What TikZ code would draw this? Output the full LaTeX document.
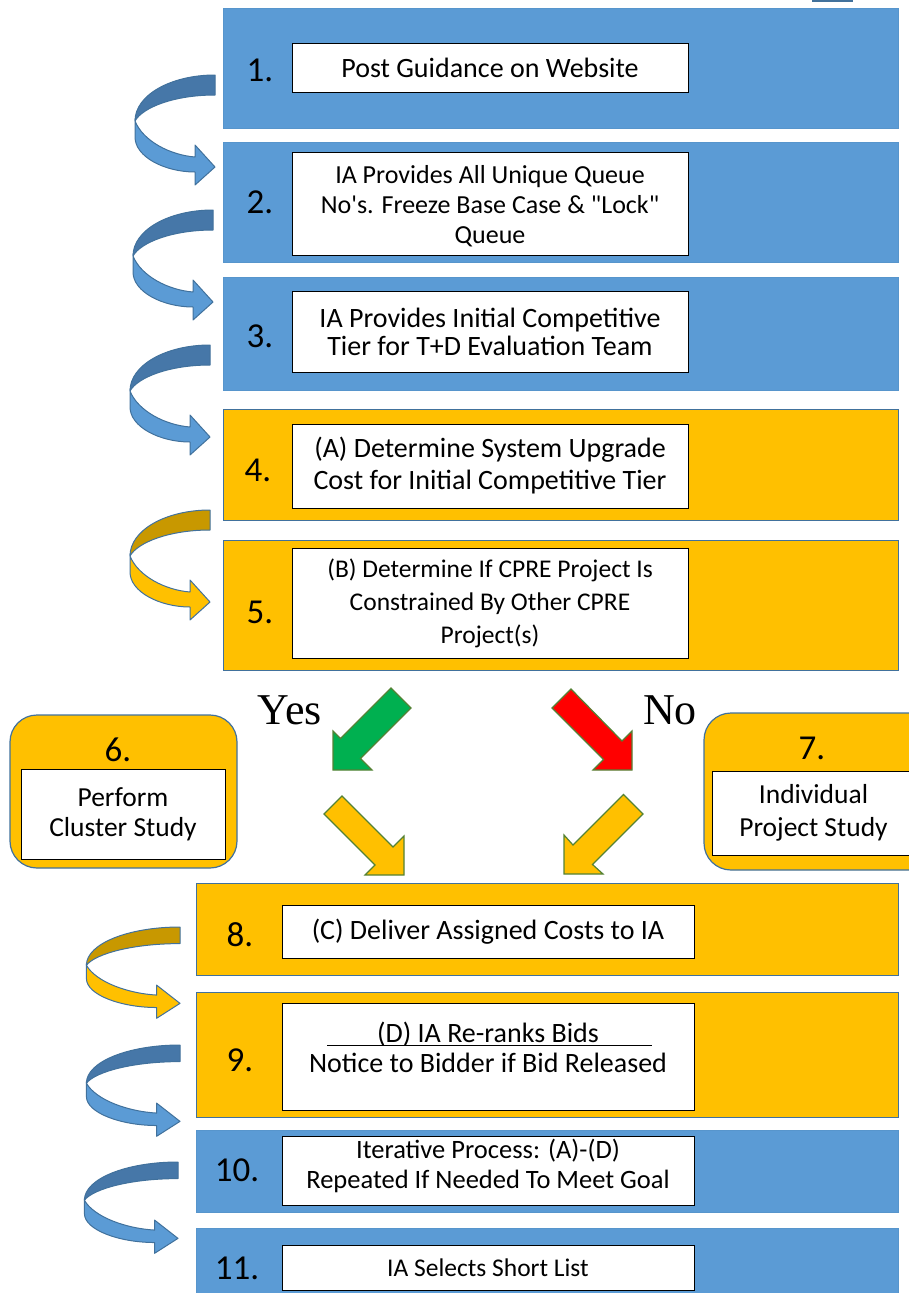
\documentclass[tikz,border=0pt]{standalone}
\usepackage{fontspec}
\setmainfont{Carlito}
\newfontfamily\boxfont{Carlito}
\newfontfamily\serifyn{Liberation Serif}
\definecolor{boxblue}{HTML}{5B9BD5}
\definecolor{edgeblue}{HTML}{41719C}
\definecolor{boxgold}{HTML}{FFC000}
\definecolor{darkgold}{HTML}{C89800}
\definecolor{darkblue}{HTML}{4677A8}
\definecolor{arrgreen}{HTML}{00B050}
\definecolor{arredge}{HTML}{548235}
\definecolor{arrred}{HTML}{FF0000}
\tikzset{
  bluepanel/.style={fill=boxblue, draw=boxblue!85!edgeblue, line width=0.8pt, inner sep=0pt},
  goldpanel/.style={fill=boxgold, draw=edgeblue, line width=0.8pt, inner sep=0pt},
  roundpanel/.style={fill=boxgold, draw=edgeblue, line width=1.2pt, rounded corners=27pt, inner sep=0pt},
  whitebox/.style={fill=white, draw=black, line width=0.8pt, inner sep=0pt, align=center},
  numtext/.style={font=\boxfont\fontsize{35}{35}\selectfont},
  yntext/.style={font=\serifyn\fontsize{44}{44}\selectfont},
  bigarrow/.style={draw=arredge, line width=1.2pt, line join=miter},
}
\newcommand\curlarrow[6]{%
  \begin{scope}[shift={(#1,#2)}, xscale=#3, yscale=#4, line width=1pt, line join=round]
    \filldraw[draw=edgeblue, fill=#6] (-80,44) -- (-80,62) .. controls (-80,82) and (-50,97) .. (-20,97)
      -- (-20,110) -- (0,92) -- (-20,70) -- (-20,82) .. controls (-45,80) and (-72,66) .. (-80,46) -- cycle;
    \filldraw[draw=edgeblue, fill=#5] (0,0) .. controls (-44,0) and (-80,20) .. (-80,46)
      .. controls (-72,32) and (-40,20) .. (0,20) -- cycle;
  \end{scope}}
\begin{document}
\begin{tikzpicture}[x=1pt, y=-1pt]
\useasboundingbox (0,0) rectangle (909,1293);
\fill[edgeblue] (812,0) rectangle (853,1.5);

% upper panels
\node[bluepanel, minimum width=675pt, minimum height=120pt] (p1) at (560.5,68) {};
\node[bluepanel, minimum width=675pt, minimum height=120pt] (p2) at (560.5,202) {};
\node[bluepanel, minimum width=675pt, minimum height=113pt] (p3) at (560.5,333.5) {};
\node[goldpanel, minimum width=675pt, minimum height=111pt] (p4) at (560.5,464.5) {};
\node[goldpanel, minimum width=675pt, minimum height=130pt] (p5) at (560.5,605) {};

\node[whitebox, minimum width=396pt, minimum height=49pt, font=\boxfont\fontsize{28}{30}\selectfont] (w1) at (490,67.5) {Post Guidance on Website};
\node[whitebox, minimum width=396pt, minimum height=103pt] (w2) at (490,203.5) {};
\node[align=center, font=\boxfont\fontsize{26}{30}\selectfont] (t2) at (490,206) {IA Provides All Unique Queue\\No's. Freeze Base Case \& "Lock"\\Queue};
\node[whitebox, minimum width=396pt, minimum height=81pt, font=\boxfont\fontsize{28}{28}\selectfont] (w3) at (490,331.5) {IA Provides Initial Competitive\\Tier for T+D Evaluation Team};
\node[whitebox, minimum width=396pt, minimum height=84pt, font=\boxfont\fontsize{28}{32}\selectfont] (w4) at (490,466) {(A) Determine System Upgrade\\Cost for Initial Competitive Tier};
\node[whitebox, minimum width=396pt, minimum height=110pt, font=\boxfont\fontsize{25.5}{33}\selectfont] (w5) at (490,603) {(B) Determine If CPRE Project Is\\Constrained By Other CPRE\\Project(s)};

\node[numtext] (n1) at (260,70) {1.};
\node[numtext] (n2) at (260,202) {2.};
\node[numtext] (n3) at (260,336) {3.};
\node[numtext] (n4) at (258,470) {4.};
\node[numtext] (n5) at (260,612) {5.};

% side panels
\node[roundpanel, minimum width=227pt, minimum height=153pt] (p6) at (123.5,791.5) {};
\node[whitebox, minimum width=204pt, minimum height=90pt, font=\boxfont\fontsize{27.5}{30}\selectfont] (w6) at (123,814) {Perform\\Cluster Study};
\node[numtext] (n6) at (118,750) {6.};
\node[roundpanel, minimum width=236pt, minimum height=157pt] (p7) at (822,791.5) {};
\node[whitebox, minimum width=203pt, minimum height=84pt, font=\boxfont\fontsize{27.5}{33}\selectfont] (w7) at (813.5,813) {Individual\\Project Study};
\node[numtext] (n7) at (812,748) {7.};

% yes / no
\node[yntext] (yes) at (290,710) {Yes};
\node[yntext] (no) at (670,710) {No};
\filldraw[bigarrow, fill=arrgreen] (391,688) -- (411,708) -- (360.5,758.5) -- (372,770) -- (333,770) -- (333,731) -- (340.5,738.5) -- cycle;
\filldraw[bigarrow, fill=arrred] (552,708) -- (571,689) -- (622,741) -- (632,731) -- (632,770) -- (593,770) -- (603.5,759.5) -- cycle;
\filldraw[bigarrow, fill=boxgold] (324,814) -- (342,796) -- (393,847) -- (404,836) -- (404,875) -- (365,875) -- (375,865) -- cycle;
\filldraw[bigarrow, fill=boxgold] (623.5,794.5) -- (643,814) -- (592.5,864.5) -- (603,874) -- (564,874) -- (564,835) -- (573,845) -- cycle;

% lower panels
\node[goldpanel, minimum width=702pt, minimum height=92pt] (p8) at (547,929) {};
\node[goldpanel, minimum width=702pt, minimum height=125pt] (p9) at (547,1054.5) {};
\node[bluepanel, minimum width=702pt, minimum height=82pt] (p10) at (547,1171) {};
\node[bluepanel, minimum width=702pt, minimum height=82pt] (p11) at (547,1269) {};

\node[whitebox, minimum width=412pt, minimum height=53pt, font=\boxfont\fontsize{28}{30}\selectfont] (w8) at (488,931.5) {(C) Deliver Assigned Costs to IA};
\node[whitebox, minimum width=412pt, minimum height=107pt] (w9) at (488,1056.5) {};
\node[align=center, font=\boxfont\fontsize{28}{30}\selectfont] (t9) at (488,1047) {(D) IA Re-ranks Bids\\Notice to Bidder if Bid Released};
\coordinate (r9a) at (327,1045);
\coordinate (r9b) at (652,1045);
\draw[line width=0.8pt] (r9a) -- (r9b);
\node[whitebox, minimum width=412pt, minimum height=69pt] (w10) at (488,1170.5) {};
\node[align=center, font=\boxfont\fontsize{26.5}{30}\selectfont] (t10) at (488,1166) {Iterative Process: (A)-(D)\\Repeated If Needed To Meet Goal};
\node[whitebox, minimum width=412pt, minimum height=45pt, font=\boxfont\fontsize{25.5}{26}\selectfont] (w11) at (488,1267.5) {IA Selects Short List};

\node[numtext] (n8) at (240,935) {8.};
\node[numtext] (n9) at (240,1060) {9.};
\node[numtext] (n10) at (237,1170) {10.};
\node[numtext] (n11) at (237,1268) {11.};

% curled arrows
\curlarrow{215}{75}{1}{1}{darkblue}{boxblue}
\curlarrow{213}{210}{1}{1}{darkblue}{boxblue}
\curlarrow{210}{345}{1}{1}{darkblue}{boxblue}
\curlarrow{210}{510}{1}{1}{darkgold}{boxgold}
\curlarrow{180}{927}{1.17}{0.83}{darkgold}{boxgold}
\curlarrow{180}{1045}{1.17}{0.83}{darkblue}{boxblue}
\curlarrow{178}{1162}{1.17}{0.83}{darkblue}{boxblue}
\end{tikzpicture}
\end{document}
